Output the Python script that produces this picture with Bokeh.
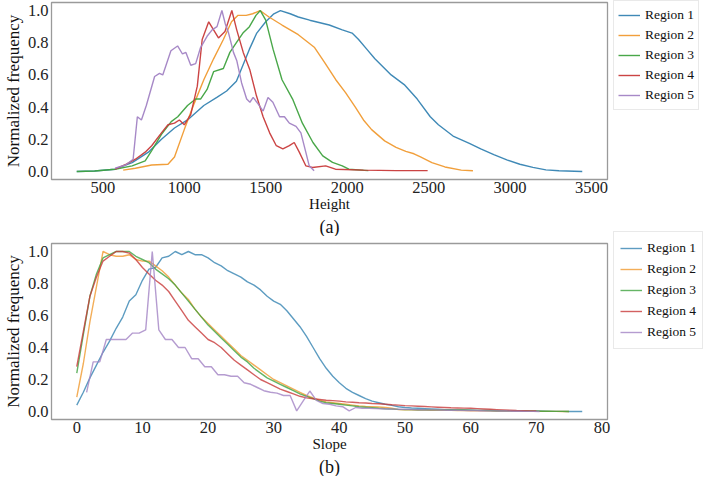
from bokeh.plotting import figure
from bokeh.layouts import column
from bokeh.models import (Range1d, FixedTicker, PrintfTickFormatter, Legend, LegendItem, Title)
from bokeh.embed import file_html
from bokeh.resources import INLINE

# ---------------- data (a): Height ----------------
h1_x = [340, 450, 575, 680, 780, 860, 940, 1020, 1120, 1200, 1260, 1320, 1360, 1400, 1445, 1500, 1550, 1590, 1650, 1700, 1770, 1890, 1970, 2030, 2070, 2120, 2170, 2270, 2350, 2430, 2510, 2560, 2650, 2750, 2820, 2900, 2980, 3060, 3140, 3220, 3300, 3443]
h1_y = [0, 0.003, 0.014, 0.055, 0.12, 0.2, 0.27, 0.32, 0.41, 0.46, 0.5, 0.56, 0.66, 0.76, 0.86, 0.93, 0.98, 1.0, 0.98, 0.96, 0.94, 0.91, 0.88, 0.86, 0.82, 0.76, 0.70, 0.60, 0.54, 0.45, 0.34, 0.29, 0.22, 0.175, 0.14, 0.105, 0.072, 0.045, 0.025, 0.01, 0.004, 0.0]

h2_x = [625, 700, 800, 900, 940, 1000, 1060, 1120, 1180, 1240, 1290, 1330, 1380, 1420, 1465, 1520, 1600, 1700, 1800, 1860, 1930, 1990, 2050, 2100, 2150, 2230, 2300, 2360, 2410, 2450, 2520, 2600, 2700, 2772]
h2_y = [0.008, 0.02, 0.04, 0.045, 0.09, 0.26, 0.42, 0.57, 0.70, 0.82, 0.93, 0.97, 0.97, 0.98, 1.0, 0.96, 0.91, 0.85, 0.77, 0.68, 0.57, 0.49, 0.40, 0.32, 0.26, 0.19, 0.15, 0.125, 0.11, 0.09, 0.055, 0.028, 0.008, 0.004]

h3_x = [340, 450, 575, 680, 760, 800, 860, 920, 960, 1020, 1070, 1100, 1140, 1180, 1240, 1280, 1320, 1360, 1400, 1440, 1467, 1500, 1545, 1600, 1665, 1725, 1790, 1850, 1910, 1970, 2010, 2130]
h3_y = [0, 0.003, 0.014, 0.035, 0.066, 0.13, 0.23, 0.31, 0.34, 0.41, 0.45, 0.45, 0.51, 0.62, 0.64, 0.74, 0.80, 0.86, 0.90, 0.97, 1.0, 0.94, 0.76, 0.57, 0.45, 0.30, 0.18, 0.097, 0.056, 0.035, 0.014, 0.005]

h4_x = [575, 645, 700, 760, 800, 860, 900, 940, 970, 1000, 1040, 1080, 1110, 1150, 1180, 1210, 1250, 1292, 1322, 1362, 1403, 1443, 1484, 1524, 1565, 1605, 1645, 1675, 1706, 1746, 1787, 1868, 1928, 2100, 2300, 2494]
h4_y = [0.014, 0.045, 0.076, 0.12, 0.16, 0.24, 0.29, 0.30, 0.32, 0.29, 0.355, 0.53, 0.82, 0.93, 0.88, 0.83, 0.87, 1.0, 0.88, 0.74, 0.63, 0.47, 0.34, 0.24, 0.16, 0.14, 0.16, 0.18, 0.12, 0.035, 0.025, 0.035, 0.014, 0.008, 0.005, 0.005]

h5_x = [575, 640, 686, 712, 737, 767, 818, 848, 868, 918, 959, 989, 1010, 1040, 1070, 1100, 1140, 1171, 1201, 1231, 1251, 1272, 1302, 1322, 1352, 1383, 1403, 1423, 1453, 1484, 1514, 1544, 1585, 1615, 1645, 1686, 1716, 1746, 1767, 1797]
h5_y = [0.02, 0.04, 0.076, 0.34, 0.32, 0.41, 0.59, 0.61, 0.60, 0.75, 0.78, 0.73, 0.74, 0.66, 0.67, 0.77, 0.84, 0.88, 0.90, 1.0, 0.92, 0.86, 0.74, 0.69, 0.55, 0.45, 0.43, 0.46, 0.42, 0.375, 0.46, 0.43, 0.34, 0.34, 0.30, 0.28, 0.24, 0.12, 0.035, 0.004]

# ---------------- data (b): Slope ----------------
s1_x = list(range(0, 78))
s1_y = [0.04, 0.12, 0.21, 0.29, 0.37, 0.44, 0.52, 0.59, 0.69, 0.73, 0.82, 0.89, 0.90, 0.96, 0.97, 1.0, 0.98, 1.0, 0.98, 0.98,
        0.96, 0.93, 0.91, 0.88, 0.86, 0.84, 0.81, 0.79, 0.76, 0.72, 0.69, 0.67, 0.63, 0.58, 0.53, 0.47, 0.40, 0.33, 0.27, 0.22,
        0.18, 0.145, 0.12, 0.10, 0.08, 0.065, 0.055, 0.045, 0.038, 0.03, 0.025, 0.022, 0.02, 0.018, 0.016, 0.014, 0.012, 0.011, 0.01, 0.009,
        0.008, 0.007, 0.006, 0.006, 0.005, 0.004, 0.004, 0.003, 0.003, 0.002, 0.002, 0.002, 0.001, 0.001, 0.001, 0.0, 0.0, 0.0]

s2_x = list(range(0, 76))
s2_y = [0.09, 0.30, 0.56, 0.78, 1.0, 0.98, 0.97, 0.97, 0.98, 0.95, 0.94, 0.94, 0.91, 0.88, 0.84, 0.79, 0.74, 0.70, 0.64, 0.59,
        0.55, 0.51, 0.47, 0.43, 0.39, 0.35, 0.32, 0.29, 0.26, 0.23, 0.20, 0.18, 0.16, 0.14, 0.12, 0.10, 0.085, 0.07, 0.06, 0.055,
        0.05, 0.045, 0.04, 0.035, 0.032, 0.03, 0.028, 0.025, 0.02, 0.012, 0.01, 0.01, 0.009, 0.009, 0.008, 0.008, 0.007, 0.007, 0.006, 0.006,
        0.005, 0.005, 0.004, 0.004, 0.003, 0.003, 0.003, 0.002, 0.002, 0.002, 0.001, 0.001, 0.001, 0.001, 0.0, 0.0]

s3_x = list(range(0, 76))
s3_y = [0.24, 0.48, 0.72, 0.86, 0.96, 0.98, 1.0, 1.0, 1.0, 0.97, 0.95, 0.93, 0.89, 0.86, 0.83, 0.79, 0.74, 0.69, 0.64, 0.59,
        0.54, 0.50, 0.46, 0.42, 0.38, 0.34, 0.31, 0.27, 0.24, 0.21, 0.19, 0.17, 0.15, 0.13, 0.11, 0.095, 0.08, 0.065, 0.055, 0.05,
        0.045, 0.04, 0.035, 0.03, 0.027, 0.024, 0.02, 0.017, 0.015, 0.013, 0.012, 0.012, 0.011, 0.011, 0.01, 0.01, 0.01, 0.009, 0.009, 0.009,
        0.008, 0.007, 0.007, 0.006, 0.005, 0.005, 0.004, 0.004, 0.003, 0.003, 0.003, 0.002, 0.002, 0.001, 0.001, 0.0]

s4_x = list(range(0, 71))
s4_y = [0.28, 0.50, 0.72, 0.84, 0.94, 0.97, 1.0, 1.0, 0.99, 0.95, 0.90, 0.86, 0.82, 0.79, 0.75, 0.69, 0.63, 0.57, 0.53, 0.49,
        0.45, 0.43, 0.40, 0.36, 0.32, 0.29, 0.26, 0.23, 0.20, 0.18, 0.16, 0.14, 0.125, 0.11, 0.095, 0.085, 0.08, 0.075, 0.07, 0.068,
        0.065, 0.06, 0.058, 0.055, 0.053, 0.05, 0.048, 0.045, 0.042, 0.04, 0.037, 0.035, 0.033, 0.031, 0.029, 0.027, 0.025, 0.023, 0.022, 0.021,
        0.02, 0.018, 0.016, 0.014, 0.012, 0.01, 0.008, 0.006, 0.005, 0.004, 0.003]

s5_x = [1.5 + i for i in range(70)]
s5_y = [0.12, 0.31, 0.31, 0.45, 0.45, 0.45, 0.45, 0.49, 0.49, 0.51, 1.0, 0.51, 0.45, 0.45, 0.40, 0.40, 0.33, 0.33, 0.28, 0.28,
        0.23, 0.23, 0.22, 0.22, 0.18, 0.17, 0.15, 0.13, 0.12, 0.115, 0.10, 0.10, 0.004, 0.066, 0.128, 0.07, 0.05, 0.045, 0.035, 0.03,
        0.004, 0.025, 0.02, 0.02, 0.018, 0.017, 0.016, 0.015, 0.014, 0.013, 0.012, 0.011, 0.01, 0.01, 0.009, 0.008, 0.008, 0.007, 0.006, 0.006,
        0.005, 0.004, 0.004, 0.003, 0.003, 0.002, 0.002, 0.001, 0.001, 0.0]

labels = ["Region 1", "Region 2", "Region 3", "Region 4", "Region 5"]
colors = ["#3583b2", "#f09a30", "#3fa23f", "#c83a3a", "#a283c4"]
h_ticks = [500, 1000, 1500, 2000, 2500, 3000, 3500]
s_ticks = [0, 10, 20, 30, 40, 50, 60, 70, 80]
y_ticks = [0.0, 0.2, 0.4, 0.6, 0.8, 1.0]

SERIF = "Liberation Serif"


def make_fig(xr, xticks, xlabel, sub, series, frame_h, top_border, alpha, spacing, pad, leg_loc):
    p = figure(width=700, frame_width=556, frame_height=frame_h,
               x_range=Range1d(*xr), y_range=Range1d(-0.05, 1.05),
               output_backend="svg", toolbar_location=None,
               min_border_left=0, min_border_right=0,
               min_border_top=top_border, min_border_bottom=0)
    p.xgrid.visible = False
    p.ygrid.visible = False
    p.outline_line_color = "#9a9a9a"
    p.outline_line_width = 1.3
    p.background_fill_color = "white"
    p.border_fill_color = "white"

    items = []
    for (xs, ys), lab, c in zip(series, labels, colors):
        r = p.line(xs, ys, line_color=c, line_width=1.4, line_alpha=alpha)
        items.append(LegendItem(label=lab, renderers=[r]))

    for ax in (p.xaxis[0], p.yaxis[0]):
        ax.axis_line_color = None
        ax.major_tick_line_color = None
        ax.minor_tick_line_color = None
        ax.major_tick_out = 0
        ax.major_tick_in = 0
        ax.minor_tick_out = 0
        ax.minor_tick_in = 0
        ax.major_label_text_font = SERIF
        ax.major_label_text_font_size = "16.5px"
        ax.major_label_text_color = "#222222"
        ax.axis_label_text_font = SERIF
        ax.axis_label_text_font_style = "normal"
        ax.axis_label_text_color = "#111111"

    p.xaxis.ticker = FixedTicker(ticks=xticks)
    p.xaxis.axis_label = xlabel
    p.xaxis.axis_label_text_font_size = "15px"
    p.xaxis.major_label_standoff = 2
    p.xaxis.axis_label_standoff = 0

    p.yaxis.ticker = FixedTicker(ticks=y_ticks)
    p.yaxis.formatter = PrintfTickFormatter(format="%.1f")
    p.yaxis.axis_label = "Normalized frequency"
    p.yaxis.axis_label_text_font_size = "17px"
    p.yaxis.major_label_standoff = 3
    p.yaxis.axis_label_standoff = 2

    t = Title(text=sub, align="center", text_font=SERIF, text_font_size="18px",
              text_font_style="normal", text_color="#111111", standoff=0, offset=0)
    p.add_layout(t, "below")

    leg = Legend(items=items, location=leg_loc, margin=0, padding=pad, spacing=spacing,
                 label_text_font=SERIF, label_text_font_size="13.5px", label_text_color="#111111",
                 glyph_width=22, glyph_height=20, label_height=20, label_standoff=5,
                 border_line_color="#d4d4d4", border_line_width=1, background_fill_alpha=1.0)
    p.add_layout(leg, "right")
    return p


top = make_fig((185, 3598), h_ticks, "Height", "(a)",
               [(h1_x, h1_y), (h2_x, h2_y), (h3_x, h3_y), (h4_x, h4_y), (h5_x, h5_y)],
               frame_h=177, top_border=2, alpha=0.95, spacing=0, pad=4, leg_loc=(6, 69))
bottom = make_fig((-3.85, 80.85), s_ticks, "Slope", "(b)",
                  [(s1_x, s1_y), (s2_x, s2_y), (s3_x, s3_y), (s4_x, s4_y), (s5_x, s5_y)],
                  frame_h=176, top_border=7, alpha=0.8, spacing=1, pad=6, leg_loc=(6, 70))

layout = column(top, bottom, spacing=0)
open("out.html", "w").write(file_html(layout, INLINE))
